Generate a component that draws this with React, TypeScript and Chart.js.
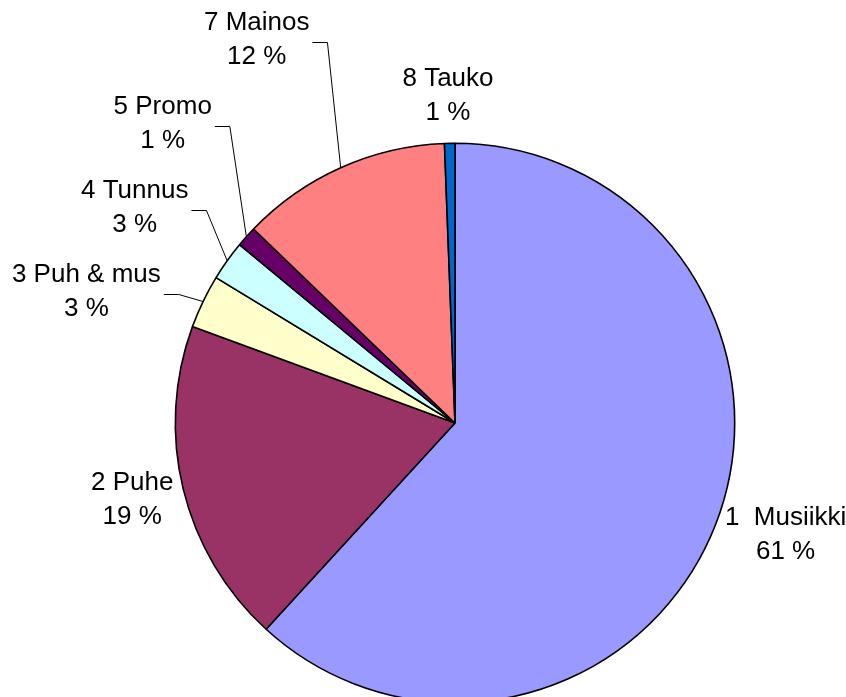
import React, { useEffect, useRef } from "react";
import { Chart, ArcElement, PieController } from "chart.js";

Chart.register(ArcElement, PieController);

const categories = ["1  Musiikki", "2 Puhe", "3 Puh & mus", "4 Tunnus", "5 Promo", "7 Mainos", "8 Tauko"];
const values = [61.8, 18.8, 3.1, 2.3, 1.2, 12.2, 0.6];
const percentLabels = ["61 %", "19 %", "3 %", "3 %", "1 %", "12 %", "1 %"];
const colors = ["#9999FF", "#993366", "#FFFFCC", "#CCFFFF", "#660066", "#FF8080", "#0066CC"];

// label centre, as a fraction of the pie radius, relative to the pie centre
const labelPlacement: [number, number][] = [
  [1.182, 0.4],
  [-1.154, 0.275],
  [-1.318, -0.468],
  [-1.145, -0.77],
  [-1.045, -1.07],
  [-0.709, -1.371],
  [-0.025, -1.168],
];
const showLeader = [false, false, true, true, true, true, false];

const FONT = "26px 'Liberation Sans', Arial, sans-serif";
const LINE_H = 34;

const labelPlugin = {
  id: "outerLabels",
  afterDatasetsDraw(chart: any) {
    const ctx: CanvasRenderingContext2D = chart.ctx;
    const meta = chart.getDatasetMeta(0);
    ctx.save();
    ctx.font = FONT;
    ctx.fillStyle = "#000";
    ctx.textAlign = "center";
    ctx.textBaseline = "middle";
    meta.data.forEach((el: any, i: number) => {
      const { x, y, startAngle, endAngle, outerRadius } = el.getProps(
        ["x", "y", "startAngle", "endAngle", "outerRadius"],
        true
      );
      const R = outerRadius;
      const cx = x + labelPlacement[i][0] * R;
      const cy = y + labelPlacement[i][1] * R;
      const lines = [categories[i], percentLabels[i]];
      lines.forEach((t, j) => ctx.fillText(t, cx, cy + (j - 0.5) * LINE_H));
      if (showLeader[i]) {
        const w = Math.max(...lines.map((t) => ctx.measureText(t).width));
        const mid = (startAngle + endAngle) / 2;
        const px = x + Math.cos(mid) * R;
        const py = y + Math.sin(mid) * R;
        const sx = cx + w / 2 + 3;
        const sy = Math.round(cy + 2) + 0.5;
        ctx.beginPath();
        ctx.moveTo(sx, sy);
        ctx.lineTo(sx + 15, sy);
        ctx.lineTo(px, py);
        ctx.strokeStyle = "#000";
        ctx.lineWidth = 1;
        ctx.stroke();
      }
    });
    ctx.restore();
  },
};

export default function App() {
  const ref = useRef<HTMLCanvasElement | null>(null);
  useEffect(() => {
    if (!ref.current) return;
    const chart = new Chart(ref.current, {
      type: "pie",
      data: {
        labels: categories,
        datasets: [
          {
            data: values,
            backgroundColor: colors,
            borderColor: "#000",
            borderWidth: 1.6,
          },
        ],
      },
      options: {
        responsive: false,
        animation: false,
        layout: { padding: { left: 174.5, right: 110.5, top: 142.5, bottom: 56.5 } },
        plugins: { legend: { display: false }, tooltip: { enabled: false } },
      },
      plugins: [labelPlugin],
    });
    return () => chart.destroy();
  }, []);
  return (
    <div style={{ position: "fixed", left: 0, top: 0, width: 846, height: 697, overflow: "hidden", background: "#fff" }}>
      <canvas ref={ref} width={846} height={760} style={{ display: "block" }} />
    </div>
  );
}
